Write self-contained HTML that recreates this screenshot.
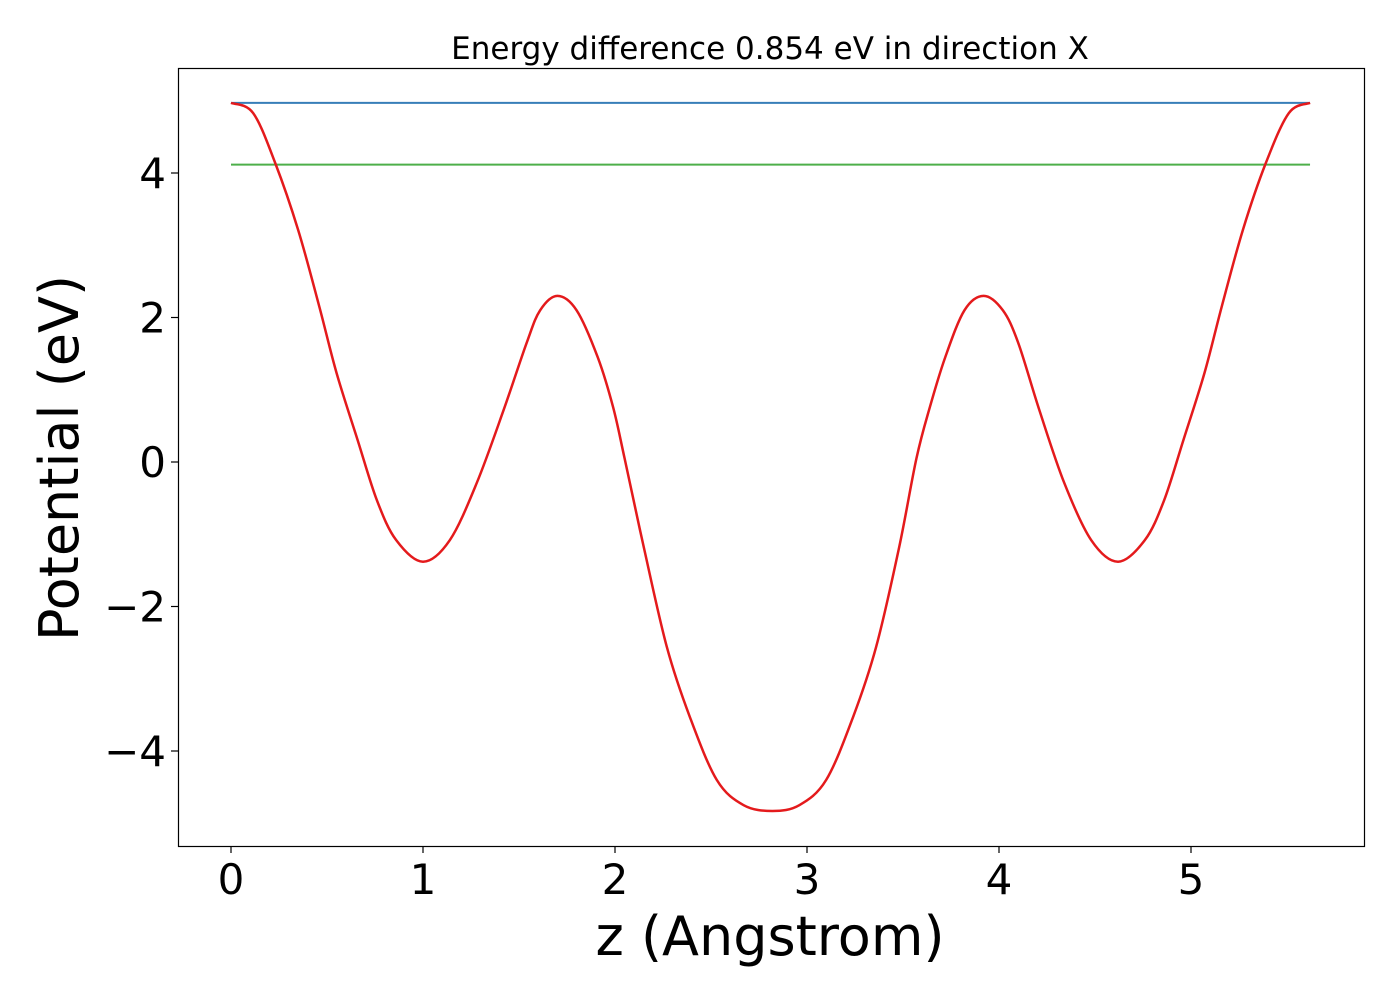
<!DOCTYPE html>
<html><head><meta charset="utf-8"><style>
html,body{margin:0;padding:0;background:#fff;}
svg{display:block;font-family:"DejaVu Sans","Liberation Sans",sans-serif;}
</style></head><body>
<svg id="chart" width="1400" height="1000">
<rect x="0" y="0" width="1400" height="1000" fill="#fff"/>
<text x="770" y="59" font-size="31" text-anchor="middle">Energy difference 0.854 eV in direction X</text>
<g id="plot"></g>
<g id="xt"></g>
<g id="yt"></g>
<rect x="178.5" y="68.5" width="1186" height="778" fill="none" stroke="#000" stroke-width="1.2"/>
<text x="770" y="955" font-size="54" text-anchor="middle">z (Angstrom)</text>
<text transform="translate(78,458) rotate(-90)" font-size="54" text-anchor="middle">Potential (eV)</text>
</svg>
<script>
const zValues = [0,0.115,0.23,0.35,0.46,0.55,0.66,0.76,0.86,1.0,1.14,1.28,1.42,1.54,1.61,1.70,1.80,1.91,1.99,2.05,2.15,2.27,2.39,2.53,2.67,2.82,2.96,3.10,3.24,3.36,3.48,3.57,3.64,3.72,3.82,3.92,4.02,4.10,4.21,4.34,4.48,4.62,4.76,4.86,4.96,5.07,5.16,5.27,5.39,5.51,5.62];
const potentialValues = [4.97,4.83,4.14,3.21,2.15,1.23,0.30,-0.53,-1.08,-1.38,-1.08,-0.29,0.72,1.65,2.10,2.30,2.10,1.45,0.76,0.05,-1.18,-2.56,-3.53,-4.40,-4.75,-4.83,-4.75,-4.40,-3.53,-2.56,-1.18,0.05,0.76,1.45,2.10,2.30,2.10,1.65,0.72,-0.29,-1.08,-1.38,-1.08,-0.53,0.30,1.23,2.15,3.21,4.14,4.83,4.97];
const upperLevel = 4.97;
const lowerLevel = 4.116;
const xTicks = [0,1,2,3,4,5];
const yTicks = [-4,-2,0,2,4];
const xTickLabels = ["0","1","2","3","4","5"];
const yTickLabels = ["\u22124","\u22122","0","2","4"];

const NS="http://www.w3.org/2000/svg";
function xs(v){return 231+v*192;}
function ys(v){return 462-v*72.25;}
const plot=document.getElementById('plot');
function mk(tag,attrs,parent){const e=document.createElementNS(NS,tag);for(const k in attrs)e.setAttribute(k,attrs[k]);parent.appendChild(e);return e;}
const x0=zValues[0], x1=zValues[zValues.length-1];
const hb=mk('line',{x1:xs(x0),x2:xs(x1),y1:ys(upperLevel),y2:ys(upperLevel),stroke:'#377eb8','stroke-width':2},plot);


const hg=mk('line',{x1:xs(x0),x2:xs(x1),y1:ys(lowerLevel),y2:ys(lowerLevel),stroke:'#4daf4a','stroke-width':2},plot);


// smooth path via Catmull-Rom
const pts=zValues.map((z,i)=>[xs(z),ys(potentialValues[i])]);
let d='M'+pts[0][0]+','+pts[0][1];
for(let i=0;i<pts.length-1;i++){
 const p0=pts[Math.max(i-1,0)],p1=pts[i],p2=pts[i+1],p3=pts[Math.min(i+2,pts.length-1)];
 const c1=[p1[0]+(p2[0]-p0[0])/6,p1[1]+(p2[1]-p0[1])/6];
 const c2=[p2[0]-(p3[0]-p1[0])/6,p2[1]-(p3[1]-p1[1])/6];
 d+=' C'+c1[0]+','+c1[1]+' '+c2[0]+','+c2[1]+' '+p2[0]+','+p2[1];
}
const curve=mk('path',{d:d,fill:'none',stroke:'#e41a1c','stroke-width':2.5},plot);


const xt=document.getElementById('xt');
xTicks.forEach((t,i)=>{
 const tk=mk('line',{x1:xs(t),x2:xs(t),y1:846,y2:853,stroke:'#000','stroke-width':1.2},xt);
 
 
 const lb=mk('text',{x:xs(t),y:894,'font-size':42,'text-anchor':'middle'},xt);
 lb.textContent=xTickLabels[i];
 
 
});
const yt=document.getElementById('yt');
yTicks.forEach((t,i)=>{
 const tk=mk('line',{x1:171,x2:178,y1:ys(t),y2:ys(t),stroke:'#000','stroke-width':1.2},yt);
 
 
 const lb=mk('text',{x:166,y:ys(t)+15,'font-size':42,'text-anchor':'end'},yt);
 lb.textContent=yTickLabels[i];
 
 
});
</script>
</body></html>
